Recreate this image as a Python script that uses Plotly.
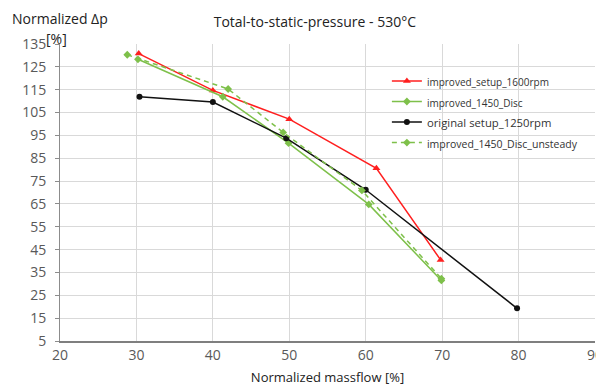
import plotly.graph_objects as go

# Data
red_x = [30.3, 40.0, 50.0, 61.4, 69.8]
red_y = [130.8, 114.7, 102.1, 80.6, 40.5]

green_x = [30.2, 41.3, 49.9, 60.4, 69.9]
green_y = [128.3, 111.9, 91.6, 64.8, 31.5]

black_x = [30.4, 40.0, 49.6, 60.0, 79.8]
black_y = [111.9, 109.6, 93.8, 71.2, 19.3]

dash_x = [28.8, 42.0, 49.2, 59.5, 69.9]
dash_y = [130.3, 115.3, 96.3, 70.9, 32.3]

names = ["improved_setup_1600rpm", "improved_1450_Disc",
         "original setup_1250rpm", "improved_1450_Disc_unsteady"]

x_ticks = [20, 30, 40, 50, 60, 70, 80, 90]
y_ticks = [5, 15, 25, 35, 45, 55, 65, 75, 85, 95, 105, 115, 125, 135]

RED = "#ff1f1f"
GREEN = "#7ec04a"
BLACK = "#111111"

fig = go.Figure()
fig.add_trace(go.Scatter(x=red_x, y=red_y,
                         name="<span style='font-size:10px'>" + names[0] + "</span>",
                         mode="lines+markers",
                         line=dict(color=RED, width=1.5),
                         marker=dict(symbol="triangle-up", size=7, color=RED)))
fig.add_trace(go.Scatter(x=green_x, y=green_y,
                         name="<span style='font-size:10px'>" + names[1] + "</span>",
                         mode="lines+markers",
                         line=dict(color=GREEN, width=1.5),
                         marker=dict(symbol="diamond", size=6, color=GREEN)))
fig.add_trace(go.Scatter(x=black_x, y=black_y,
                         name="<span style='font-size:11.3px'>" + names[2] + "</span>",
                         mode="lines+markers",
                         line=dict(color=BLACK, width=1.5),
                         marker=dict(symbol="circle", size=6, color=BLACK)))
fig.add_trace(go.Scatter(x=dash_x, y=dash_y,
                         name="<span style='font-size:10.5px'>" + names[3] + "</span>",
                         mode="lines+markers",
                         line=dict(color=GREEN, width=1.5, dash="5px,4px"),
                         marker=dict(symbol="diamond", size=6, color=GREEN)))

fig.update_layout(
    width=604, height=387,
    margin=dict(l=52, r=17, t=36, b=54, autoexpand=False),
    paper_bgcolor="white", plot_bgcolor="white",
    font=dict(family="Open Sans, Noto Sans, sans-serif", color="#404040"),
    title=dict(text="Total-to-static-pressure - 530°C", xref="container", x=0.508,
               xanchor="center", yref="container", y=0.964, yanchor="middle",
               font=dict(size=14, color="#222222")),
    legend=dict(x=0.611, y=0.927, xanchor="left", yanchor="top",
                bgcolor="rgba(0,0,0,0)", font=dict(size=13.5, color="#333333"),
                tracegroupgap=0),
    showlegend=True,
    annotations=[
        dict(text="Normalized Δp", xref="paper", yref="paper", x=-0.0935, y=1.0875,
             xanchor="left", yanchor="middle", showarrow=False,
             font=dict(size=14, color="#222222")),
        dict(text="[%]", xref="paper", yref="paper", x=-0.03, y=1.017,
             xanchor="left", yanchor="middle", showarrow=False,
             font=dict(size=14, color="#222222")),
    ],
)
fig.update_xaxes(range=[20, 90], tickvals=x_ticks, showgrid=True, gridcolor="#d9d9d9",
                 gridwidth=1, showline=True, linecolor="#7f7f7f", linewidth=1.5,
                 zeroline=False, ticks="", tickfont=dict(size=14, color="#595959"),
                 automargin=False,
                 title=dict(text="Normalized massflow [%]", font=dict(size=13, color="#222222"),
                            standoff=10))
fig.update_yaxes(range=[5, 135], tickvals=y_ticks, showgrid=True, gridcolor="#d9d9d9",
                 gridwidth=1, showline=True, linecolor="#8c8c8c", linewidth=1,
                 zeroline=False, ticks="outside", ticklen=4, tickcolor="#8c8c8c",
                 ticklabelstandoff=6, automargin=False,
                 tickfont=dict(size=14, color="#595959"))

fig.write_html("out.html")
